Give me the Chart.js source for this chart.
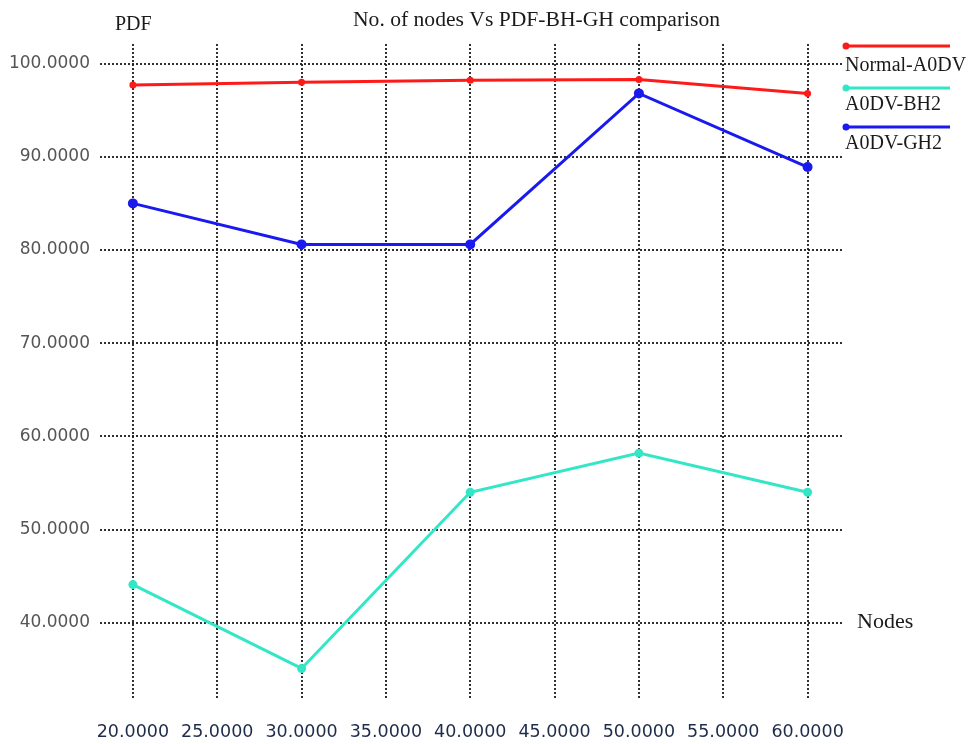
<!DOCTYPE html>
<html>
<head>
<meta charset="utf-8">
<script src="https://cdn.jsdelivr.net/npm/chart.js@4.4.1/dist/chart.umd.min.js"></script>
<style>
    html, body { margin: 0; padding: 0; background: #fff; }
    #wrap { width: 972px; height: 744px; position: relative; }
</style>
</head>
<body>
<div id="wrap"><canvas id="pdfChart" width="972" height="744"></canvas></div>
<script>
const nodes = [20, 30, 40, 50, 60];
const normalAodv = [97.7, 98.0, 98.2, 98.3, 96.8];
const aodvBh2 = [44.1, 35.1, 54.0, 58.2, 54.0];
const aodvGh2 = [85.0, 80.6, 80.6, 96.8, 88.9];

const xTicks = [20, 25, 30, 35, 40, 45, 50, 55, 60];
const yTicks = [40, 50, 60, 70, 80, 90, 100];

const chartTitle = 'No. of nodes Vs PDF-BH-GH comparison';
const yAxisLabel = 'PDF';
const xAxisLabel = 'Nodes';

const serif = '"Liberation Serif", "Times New Roman", serif';
const sans = '"DejaVu Sans", Verdana, sans-serif';

const toPoints = (ys) => nodes.map((x, i) => ({ x: x, y: ys[i] }));

function makeSeries(label, values, color, radius) {
    return {
        label: label,
        data: toPoints(values),
        borderColor: color,
        backgroundColor: color,
        borderWidth: 3,
        pointRadius: radius,
        pointHoverRadius: radius,
        pointBorderWidth: 0,
        tension: 0,
        clip: false
    };
}

// title, axis names and the little legend on the right
const textPlugin = {
    id: 'textPlugin',
    afterDraw(chart) {
        const ctx = chart.ctx;
        ctx.save();
        ctx.fillStyle = '#1a1a1a';
        ctx.textBaseline = 'alphabetic';
        ctx.textAlign = 'left';
        ctx.font = '20px ' + serif;
        ctx.fillText(yAxisLabel, 115, 30);
        ctx.font = '21.6px ' + serif;
        ctx.fillText(chartTitle, 353, 26);
        ctx.font = '22px ' + serif;
        ctx.fillText(xAxisLabel, 857, 628);

        ctx.font = '20px ' + serif;
        const rows = [46, 88, 127];
        const textRows = [71, 110, 149];
        chart.data.datasets.forEach((ds, i) => {
            ctx.strokeStyle = ds.borderColor;
            ctx.fillStyle = ds.borderColor;
            ctx.lineWidth = 3;
            ctx.beginPath();
            ctx.moveTo(845, rows[i]);
            ctx.lineTo(950, rows[i]);
            ctx.stroke();
            ctx.beginPath();
            ctx.arc(846, rows[i], 3.5, 0, Math.PI * 2);
            ctx.fill();
            ctx.fillStyle = '#1a1a1a';
            ctx.fillText(ds.label, 845, textRows[i]);
        });
        ctx.restore();
    }
};

const gridStyle = {
    color: 'rgba(25,25,25,0.9)',
    lineWidth: 2,
    drawTicks: false
};

function initChart() {
    const ctx = document.getElementById('pdfChart').getContext('2d');
    new Chart(ctx, {
        type: 'line',
        data: {
            datasets: [
                makeSeries('Normal-A0DV', normalAodv, '#ff1a1a', 3.5),
                makeSeries('A0DV-BH2', aodvBh2, '#33e6c6', 4.5),
                makeSeries('A0DV-GH2', aodvGh2, '#1a1aee', 5)
            ]
        },
        options: {
            responsive: false,
            animation: false,
            layout: { padding: { top: 44, right: 129, left: 0, bottom: 0 } },
            plugins: {
                legend: { display: false },
                title: { display: false },
                tooltip: { enabled: false }
            },
            scales: {
                x: {
                    type: 'linear',
                    min: 18.05,
                    max: 62.1,
                    afterBuildTicks: (scale) => { scale.ticks = xTicks.map(v => ({ value: v })); },
                    afterFit: (scale) => { scale.height = 46; },
                    grid: gridStyle,
                    border: { display: false, dash: [2, 2] },
                    ticks: {
                        color: '#1e2c4a',
                        font: { family: sans, size: 17.5 },
                        padding: 24,
                        maxRotation: 0,
                        autoSkip: false,
                        callback: (v) => Number(v).toFixed(4)
                    }
                },
                y: {
                    min: 31.93,
                    max: 102.1,
                    afterBuildTicks: (scale) => { scale.ticks = yTicks.map(v => ({ value: v })); },
                    afterFit: (scale) => { scale.width = 100; },
                    grid: gridStyle,
                    border: { display: false, dash: [2, 2] },
                    ticks: {
                        color: '#555555',
                        font: { family: sans, size: 17 },
                        padding: 10,
                        autoSkip: false,
                        callback: (v) => Number(v).toFixed(4)
                    }
                }
            }
        },
        plugins: [textPlugin]
    });
}

document.addEventListener('DOMContentLoaded', initChart);
</script>
</body>
</html>
